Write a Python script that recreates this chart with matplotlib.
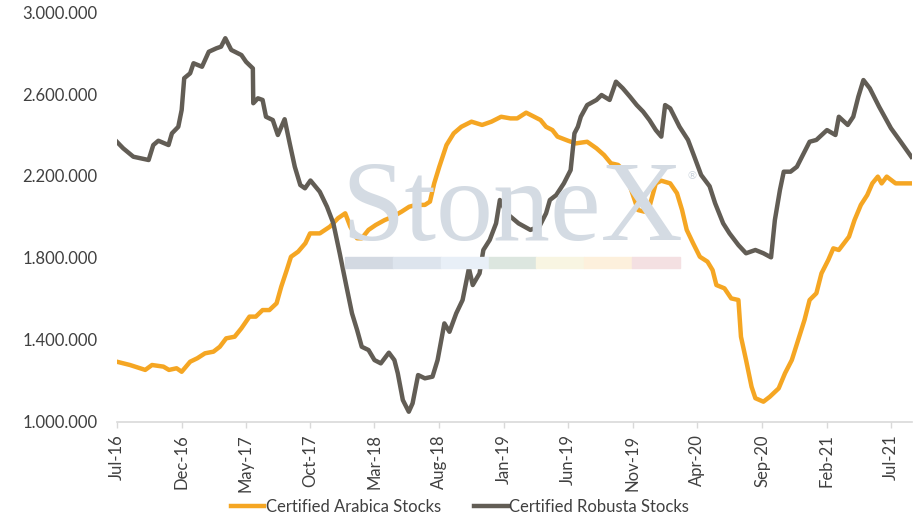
import numpy as np
import pandas as pd
import matplotlib
matplotlib.use('Agg')
import matplotlib.pyplot as plt
from matplotlib.patches import Rectangle
from matplotlib.ticker import FuncFormatter

# ============ DATA ============
robusta_dates = [
    '2016-07-01', '2016-07-16', '2016-08-09', '2016-09-14', '2016-09-25', '2016-10-07',
    '2016-10-31', '2016-11-08', '2016-11-23', '2016-12-01', '2016-12-07', '2016-12-21',
    '2016-12-29', '2017-01-18', '2017-02-03', '2017-02-21', '2017-03-04', '2017-03-14',
    '2017-03-28', '2017-04-21', '2017-05-02', '2017-05-18', '2017-05-19', '2017-05-30',
    '2017-06-10', '2017-06-18', '2017-07-04', '2017-07-16', '2017-08-01', '2017-08-13',
    '2017-08-25', '2017-09-07', '2017-09-18', '2017-10-01', '2017-10-23', '2017-11-09',
    '2017-11-24', '2017-12-09', '2017-12-25', '2018-01-07', '2018-01-19', '2018-01-30',
    '2018-02-15', '2018-03-01', '2018-03-16', '2018-04-04', '2018-04-17', '2018-04-25',
    '2018-05-07', '2018-05-21', '2018-05-30', '2018-06-12', '2018-06-28', '2018-07-16',
    '2018-07-28', '2018-08-13', '2018-08-25', '2018-09-10', '2018-09-25', '2018-10-10',
    '2018-10-19', '2018-11-04', '2018-11-13', '2018-11-28', '2018-12-13', '2018-12-22',
    '2019-01-07', '2019-02-04', '2019-03-04', '2019-03-25', '2019-04-10', '2019-04-19',
    '2019-05-04', '2019-05-22', '2019-06-07', '2019-06-16', '2019-06-24', '2019-07-01',
    '2019-07-16', '2019-08-07', '2019-08-19', '2019-09-07', '2019-09-22', '2019-10-08',
    '2019-10-25', '2019-11-10', '2019-11-25', '2019-12-10', '2019-12-25', '2020-01-07',
    '2020-01-16', '2020-01-28', '2020-02-19', '2020-03-10', '2020-03-25', '2020-04-10',
    '2020-04-30', '2020-05-13', '2020-06-01', '2020-06-16', '2020-07-07', '2020-07-25',
    '2020-08-16', '2020-09-04', '2020-09-22', '2020-10-01', '2020-10-13', '2020-10-22',
    '2020-11-07', '2020-11-22', '2020-12-04', '2020-12-22', '2021-01-07', '2021-02-01',
    '2021-02-21', '2021-03-01', '2021-03-22', '2021-04-04', '2021-04-16', '2021-04-28',
    '2021-05-13', '2021-06-04', '2021-07-02', '2021-07-25', '2021-08-19',
]
robusta_stocks = [
    2367000, 2335000, 2294000, 2278000, 2351000, 2372000,
    2351000, 2408000, 2440000, 2522000, 2677000, 2701000,
    2750000, 2733000, 2806000, 2823000, 2831000, 2872000,
    2815000, 2790000, 2757000, 2725000, 2555000, 2579000,
    2571000, 2489000, 2473000, 2400000, 2477000, 2359000,
    2245000, 2156000, 2140000, 2178000, 2123000, 2050000,
    1969000, 1823000, 1660000, 1530000, 1449000, 1367000,
    1351000, 1302000, 1286000, 1338000, 1302000, 1238000,
    1107000, 1050000, 1091000, 1229000, 1213000, 1221000,
    1302000, 1481000, 1440000, 1530000, 1595000, 1750000,
    1668000, 1725000, 1839000, 1888000, 1969000, 2083000,
    2018000, 1969000, 1937000, 1953000, 2018000, 2083000,
    2107000, 2164000, 2229000, 2408000, 2440000, 2489000,
    2546000, 2571000, 2595000, 2571000, 2660000, 2628000,
    2587000, 2546000, 2514000, 2473000, 2424000, 2392000,
    2546000, 2530000, 2440000, 2376000, 2294000, 2205000,
    2150000, 2067000, 1969000, 1920000, 1863000, 1823000,
    1839000, 1823000, 1803000, 1985000, 2132000, 2221000,
    2221000, 2245000, 2294000, 2367000, 2376000, 2424000,
    2400000, 2489000, 2449000, 2489000, 2587000, 2668000,
    2628000, 2538000, 2433000, 2367000, 2294000,
]

arabica_dates = [
    '2016-07-01', '2016-08-01', '2016-09-06', '2016-09-22', '2016-10-19', '2016-11-01',
    '2016-11-19', '2016-12-01', '2016-12-21', '2017-01-07', '2017-01-25', '2017-02-14',
    '2017-03-01', '2017-03-16', '2017-04-05', '2017-04-21', '2017-05-10', '2017-05-25',
    '2017-06-10', '2017-06-26', '2017-07-13', '2017-07-24', '2017-08-06', '2017-08-16',
    '2017-09-02', '2017-09-19', '2017-09-30', '2017-10-23', '2017-11-16', '2017-12-05',
    '2017-12-22', '2018-01-03', '2018-01-19', '2018-01-30', '2018-02-15', '2018-03-04',
    '2018-03-25', '2018-04-13', '2018-05-04', '2018-05-22', '2018-06-07', '2018-06-28',
    '2018-07-10', '2018-07-20', '2018-08-01', '2018-08-18', '2018-09-04', '2018-09-22',
    '2018-10-16', '2018-11-10', '2018-12-02', '2018-12-25', '2019-01-16', '2019-02-01',
    '2019-02-22', '2019-03-13', '2019-03-28', '2019-04-10', '2019-04-25', '2019-05-07',
    '2019-06-01', '2019-06-19', '2019-07-16', '2019-08-07', '2019-08-25', '2019-09-10',
    '2019-09-27', '2019-10-13', '2019-10-28', '2019-11-13', '2019-11-28', '2019-12-10',
    '2019-12-25', '2020-01-07', '2020-01-28', '2020-02-13', '2020-02-25', '2020-03-07',
    '2020-03-22', '2020-04-07', '2020-04-25', '2020-05-07', '2020-05-16', '2020-06-04',
    '2020-06-20', '2020-07-07', '2020-07-13', '2020-07-25', '2020-08-07', '2020-08-16',
    '2020-09-04', '2020-09-19', '2020-10-10', '2020-10-25', '2020-11-10', '2020-11-25',
    '2020-12-10', '2020-12-22', '2021-01-07', '2021-01-19', '2021-02-04', '2021-02-16',
    '2021-03-01', '2021-03-25', '2021-04-07', '2021-04-22', '2021-05-07', '2021-05-19',
    '2021-06-01', '2021-06-10', '2021-06-22', '2021-07-13', '2021-08-19',
]
arabica_stocks = [
    1294000, 1278000, 1254000, 1278000, 1270000, 1254000,
    1262000, 1245000, 1294000, 1311000, 1335000, 1343000,
    1367000, 1408000, 1416000, 1457000, 1514000, 1514000,
    1546000, 1546000, 1579000, 1660000, 1741000, 1806000,
    1831000, 1872000, 1920000, 1920000, 1953000, 1994000,
    2018000, 1953000, 1896000, 1896000, 1937000, 1961000,
    1985000, 2001000, 2026000, 2050000, 2059000, 2059000,
    2075000, 2164000, 2245000, 2351000, 2408000, 2440000,
    2465000, 2449000, 2465000, 2489000, 2481000, 2481000,
    2509000, 2489000, 2473000, 2440000, 2424000, 2392000,
    2372000, 2359000, 2367000, 2335000, 2302000, 2262000,
    2254000, 2221000, 2132000, 2034000, 2026000, 2050000,
    2164000, 2177000, 2164000, 2116000, 2034000, 1937000,
    1872000, 1806000, 1782000, 1741000, 1668000, 1652000,
    1603000, 1595000, 1416000, 1302000, 1172000, 1116000,
    1099000, 1123000, 1164000, 1238000, 1302000, 1400000,
    1498000, 1595000, 1628000, 1725000, 1790000, 1847000,
    1839000, 1904000, 1985000, 2059000, 2107000, 2164000,
    2197000, 2164000, 2197000, 2164000, 2164000,
]

series_labels = ['Certified Arabica Stocks', 'Certified Robusta Stocks']
y_ticks = [1000000, 1400000, 1800000, 2200000, 2600000, 3000000]

# ============ STYLE ============
ORANGE = '#f5a623'
DARK = '#625d55'
TEXT = '#404040'
FS = 12
plt.rcParams['font.family'] = ['Lato', 'DejaVu Sans']

fig = plt.figure(figsize=(9.2, 5.29), dpi=100)
ax = fig.add_axes([0.127, 0.2023, 0.864, 0.7750])

# ============ WATERMARK ============
fig.text(0.557, 0.546, 'StoneX', family='Liberation Serif', fontsize=82,
         color='#d4dbe3', ha='center', va='baseline', zorder=0)
fig.text(0.7525, 0.668, '®', family='DejaVu Sans', fontsize=8,
         color='#cdd5de', ha='center', va='center', zorder=0)
stripe_colors = ['#d3d9e2', '#dde4ed', '#e8eff7', '#dce6df',
                 '#f8f5e2', '#fdf0dc', '#f4e0e2']
seg_w = 0.364 / len(stripe_colors)
for i, c in enumerate(stripe_colors):
    fig.patches.append(Rectangle((0.375 + i * seg_w, 0.494), seg_w, 0.021,
                                 transform=fig.transFigure, color=c, zorder=0))

# ============ LINES ============
ax.set_facecolor('none')
ax.plot(pd.to_datetime(arabica_dates), arabica_stocks, color=ORANGE,
        lw=3.2, label=series_labels[0], solid_joinstyle='round', zorder=3)
ax.plot(pd.to_datetime(robusta_dates), robusta_stocks, color=DARK,
        lw=3.2, label=series_labels[1], solid_joinstyle='round', zorder=3)

# ============ AXES ============
ax.set_ylim(1000000, 3000000)
ax.set_yticks(y_ticks)
ax.yaxis.set_major_formatter(FuncFormatter(lambda v, p: f'{v:,.0f}'.replace(',', '.')))
ax.set_xlim(pd.Timestamp('2016-07-01'), pd.Timestamp('2021-08-20'))
tick_dates = pd.date_range('2016-07-01', '2021-07-01', freq='5MS')
ax.set_xticks(tick_dates)
ax.set_xticklabels([d.strftime('%b-%y') for d in tick_dates], rotation=90)

for s in ['top', 'right', 'left']:
    ax.spines[s].set_visible(False)
ax.spines['bottom'].set_color('#d9d9d9')
ax.spines['bottom'].set_linewidth(1.2)
ax.tick_params(axis='y', length=0, pad=14, labelsize=FS, labelcolor=TEXT)
ax.tick_params(axis='x', length=4, width=1, color='#d9d9d9', pad=5,
               labelsize=FS, labelcolor=TEXT)

fig.legend(loc='center', bbox_to_anchor=(0.5, 0.042), ncol=2, frameon=False,
           fontsize=FS, labelcolor=TEXT, handlelength=2.0, handletextpad=0.1,
           columnspacing=2.0)

plt.savefig('out.png', dpi=100)
plt.close()
